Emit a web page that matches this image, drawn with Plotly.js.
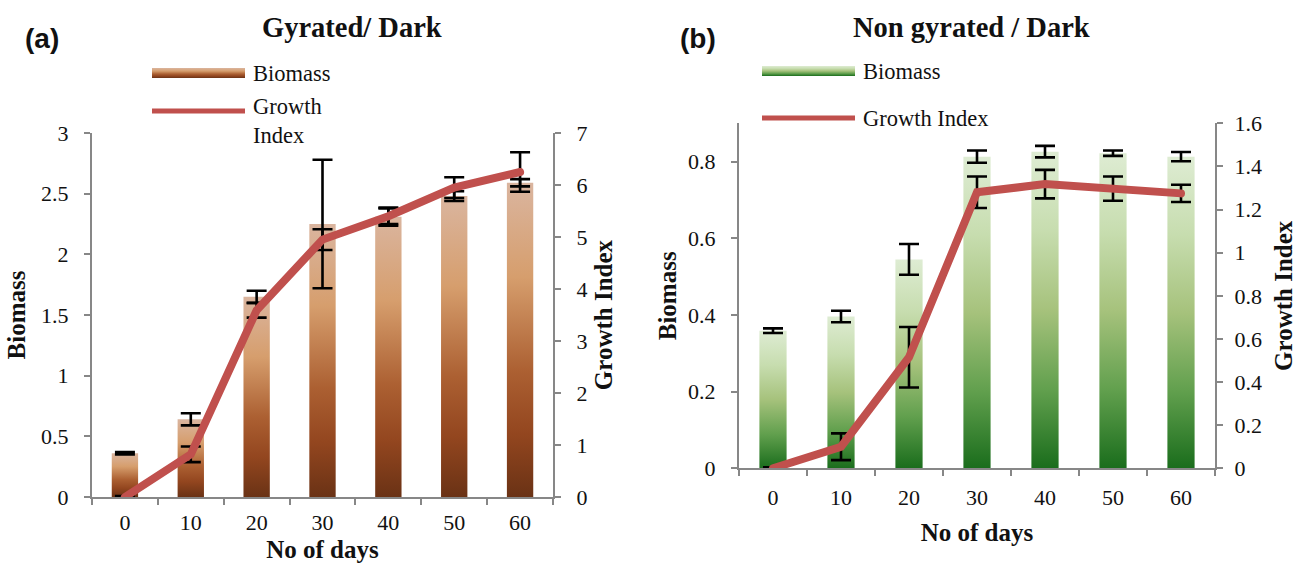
<!DOCTYPE html>
<html>
<head>
<meta charset="utf-8">
<script src="https://cdn.plot.ly/plotly-3.0.1.min.js"></script>
<style>
html,body{margin:0;padding:0;background:#fff;}
#chart{width:1301px;height:566px;}
</style>
</head>
<body>
<div id="chart"></div>
<script>
// ---- data ----
const days = ['0', '10', '20', '30', '40', '50', '60'];

const biomassA = [0.36, 0.64, 1.65, 2.25, 2.31, 2.48, 2.59];
const biomassErrA = [0.01, 0.05, 0.05, 0.53, 0.075, 0.04, 0.03];
const growthA = [0, 0.82, 3.59, 4.95, 5.4, 5.95, 6.25];
const growthErrA = [0.02, 0.15, 0.14, 0.2, 0.15, 0.2, 0.38];

const biomassB = [0.359, 0.396, 0.545, 0.813, 0.826, 0.822, 0.813];
const biomassErrB = [0.006, 0.015, 0.04, 0.016, 0.015, 0.007, 0.012];
const growthB = [0, 0.10, 0.515, 1.28, 1.318, 1.297, 1.275];
const growthErrB = [0.005, 0.062, 0.14, 0.073, 0.066, 0.056, 0.04];

const titleA = 'Gyrated/ Dark';
const titleB = 'Non gyrated / Dark';
const xTitle = 'No of days';
const yTitleLeft = 'Biomass';
const yTitleRight = 'Growth Index';

// ---- styling ----
const W = 1301, H = 566;
const px = x => x / W;
const py = y => 1 - y / H;
const serif = 'Liberation Serif';
const sans = 'Liberation Sans';
const axisGray = '#878787';
const lineRed = '#c0504d';
const tickFont = {family: serif, size: 22, color: '#111'};
const titleFont = {family: serif, size: 25, color: '#111', weight: 'bold'};

const brownStops = [[0, '#dab59f'], [0.3, '#d69e6d'], [0.6, '#ac6032'], [0.8, '#93461f'], [1, '#6a3215']];
const greenStops = [[0, '#deecd3'], [0.25, '#c7ddaf'], [0.5, '#a6c27c'], [0.75, '#62a04e'], [1, '#1a6d1c']];

function errBar(arr) {
  return {type: 'data', array: arr, visible: true, color: '#000', thickness: 2.6, width: 10};
}

const data = [
  {type: 'bar', x: days, y: biomassA, xaxis: 'x', yaxis: 'y', name: 'Biomass', meta: 'gradBrown',
   marker: {color: '#c07a48', line: {width: 0}}, error_y: errBar(biomassErrA), showlegend: false},
  {type: 'scatter', mode: 'lines', x: days, y: growthA, xaxis: 'x', yaxis: 'y2', name: 'Growth Index',
   line: {color: lineRed, width: 8}, error_y: errBar(growthErrA), showlegend: false},
  {type: 'bar', x: days, y: biomassB, xaxis: 'x2', yaxis: 'y3', name: 'Biomass', meta: 'gradGreen',
   marker: {color: '#8ab868', line: {width: 0}}, error_y: errBar(biomassErrB), showlegend: false},
  {type: 'scatter', mode: 'lines', x: days, y: growthB, xaxis: 'x2', yaxis: 'y4', name: 'Growth Index',
   line: {color: lineRed, width: 8}, error_y: errBar(growthErrB), showlegend: false}
];

function xAxis(domain, anchor, standoff, titleStandoff) {
  return {
    domain: domain, anchor: anchor, type: 'category', tickson: 'boundaries',
    showline: true, linecolor: axisGray, linewidth: 2, mirror: false,
    ticks: 'outside', ticklen: 6, tickwidth: 2, tickcolor: axisGray,
    showgrid: false, zeroline: false, tickfont: tickFont, ticklabelstandoff: standoff,
    title: {text: xTitle, font: titleFont, standoff: titleStandoff}, fixedrange: true
  };
}
function yAxis(domain, anchor, range, dtick, side, overlaying, standoff, titleStandoff) {
  const a = {
    domain: domain, anchor: anchor, range: range, dtick: dtick, tick0: 0, side: side,
    showline: true, linecolor: axisGray, linewidth: 2,
    ticks: 'outside', ticklen: 6, tickwidth: 2, tickcolor: axisGray,
    showgrid: false, zeroline: false, tickfont: tickFont, ticklabelstandoff: standoff,
    title: {text: side === 'left' ? yTitleLeft : yTitleRight, font: titleFont, standoff: titleStandoff},
    fixedrange: true
  };
  if (overlaying) a.overlaying = overlaying;
  return a;
}

const domAx = [px(92), px(553)], domAy = [py(497), py(133)];
const domBx = [px(739), px(1215)], domBy = [py(468.3), py(123.3)];

function ann(text, x, y, font, xanchor) {
  return {text: text, xref: 'paper', yref: 'paper', x: px(x), y: py(y), showarrow: false,
          xanchor: xanchor || 'center', yanchor: 'middle', align: 'left', font: font};
}
const panelTitleFont = {family: serif, size: 28.5, color: '#111', weight: 'bold'};
const tagFont = {family: sans, size: 28, color: '#111', weight: 'bold'};
const legFont = {family: serif, size: 22.5, color: '#111'};

const layout = {
  width: W, height: H,
  margin: {l: 0, r: 0, t: 0, b: 0},
  paper_bgcolor: '#fff', plot_bgcolor: 'rgba(0,0,0,0)',
  showlegend: false,
  bargap: 0.6,
  xaxis: xAxis(domAx, 'y', 5, 6),
  yaxis: yAxis(domAy, 'x', [0, 3], 0.5, 'left', null, 11, 8),
  yaxis2: yAxis(domAy, 'x', [0, 7], 1, 'right', 'y', 11, 8),
  xaxis2: xAxis(domBx, 'y3', 8, 15),
  yaxis3: yAxis(domBy, 'x2', [0, 0.9], 0.2, 'left', null, 11, 4),
  yaxis4: yAxis(domBy, 'x2', [0, 1.6], 0.2, 'right', 'y3', 7, 14),
  annotations: [
    ann(titleA, 352, 27, panelTitleFont),
    ann(titleB, 971, 27, panelTitleFont),
    ann('(a)', 42, 38, tagFont),
    ann('(b)', 698, 38, tagFont),
    ann('Biomass', 251, 73, legFont, 'left'),
    ann('Growth<br>Index', 251, 121, legFont, 'left'),
    ann('Biomass', 861, 71, legFont, 'left'),
    ann('Growth Index', 861, 118, legFont, 'left')
  ],
  shapes: [
    {type: 'rect', xref: 'paper', yref: 'paper', x0: px(152), x1: px(245), y0: py(78), y1: py(68),
     fillcolor: '#c07a48', line: {width: 0}},
    {type: 'line', xref: 'paper', yref: 'paper', x0: px(152), x1: px(245), y0: py(111), y1: py(111),
     line: {color: lineRed, width: 5}},
    {type: 'rect', xref: 'paper', yref: 'paper', x0: px(762), x1: px(855), y0: py(76), y1: py(66),
     fillcolor: '#8ab868', line: {width: 0}},
    {type: 'line', xref: 'paper', yref: 'paper', x0: px(762), x1: px(855), y0: py(118), y1: py(118),
     line: {color: lineRed, width: 5}}
  ]
};

const gd = document.getElementById('chart');

function makeGradient(defs, id, stops) {
  const ns = 'http://www.w3.org/2000/svg';
  const g = document.createElementNS(ns, 'linearGradient');
  g.setAttribute('id', id);
  g.setAttribute('x1', '0'); g.setAttribute('y1', '0');
  g.setAttribute('x2', '0'); g.setAttribute('y2', '1');
  stops.forEach(s => {
    const st = document.createElementNS(ns, 'stop');
    st.setAttribute('offset', s[0]);
    st.setAttribute('stop-color', s[1]);
    g.appendChild(st);
  });
  defs.appendChild(g);
}

Plotly.newPlot(gd, data, layout, {staticPlot: true, displayModeBar: false}).then(() => {
  const svg = gd.querySelector('svg.main-svg');
  let defs = svg.querySelector('defs');
  if (!defs) { defs = document.createElementNS('http://www.w3.org/2000/svg', 'defs'); svg.insertBefore(defs, svg.firstChild); }
  makeGradient(defs, 'gradBrown', brownStops);
  makeGradient(defs, 'gradGreen', greenStops);
  gd.querySelectorAll('.trace.bars').forEach(g => {
    const d = g.__data__;
    const tr = d && d[0] && d[0].trace;
    if (!tr || !tr.meta) return;
    g.querySelectorAll('g.point path').forEach(p => { p.style.fill = 'url(#' + tr.meta + ')'; });
  });
  gd.querySelectorAll('.shapelayer path').forEach(p => {
    const i = p.getAttribute('data-index');
    if (i === '0') p.style.fill = 'url(#gradBrown)';
    if (i === '2') p.style.fill = 'url(#gradGreen)';
  });
  gd.querySelectorAll('.scatterlayer .js-line').forEach(p => { p.style.strokeLinecap = 'round'; });
});
</script>
</body>
</html>
